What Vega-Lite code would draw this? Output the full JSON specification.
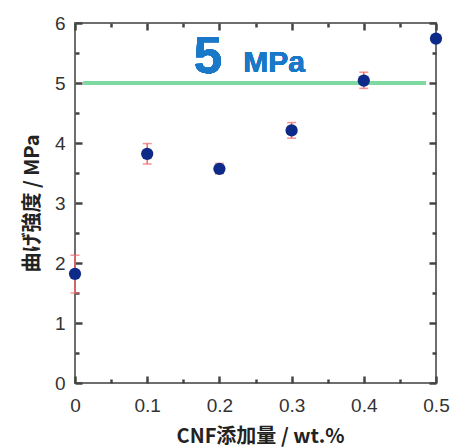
{
  "$schema": "https://vega.github.io/schema/vega-lite/v6.json",
  "width": 361,
  "height": 360,
  "padding": {"left": 75, "top": 23, "right": 27, "bottom": 65},
  "autosize": {"type": "none"},
  "background": "white",
  "config": {
    "view": {"stroke": "#6e6e6e", "strokeWidth": 2},
    "axis": {"labelFont": "Liberation Sans", "titleFont": "Noto Sans CJK JP", "grid": false, "domain": false}
  },
  "data": {
    "values": [
      {"cnf": 0.0, "strength": 1.82, "lo": 1.50, "hi": 2.13},
      {"cnf": 0.1, "strength": 3.82, "lo": 3.65, "hi": 3.99},
      {"cnf": 0.2, "strength": 3.57, "lo": 3.49, "hi": 3.66},
      {"cnf": 0.3, "strength": 4.21, "lo": 4.08, "hi": 4.34},
      {"cnf": 0.4, "strength": 5.04, "lo": 4.91, "hi": 5.18},
      {"cnf": 0.5, "strength": 5.74, "lo": 5.74, "hi": 5.74}
    ]
  },
  "resolve": {"axis": {"x": "independent", "y": "independent"}},
  "layer": [
    {
      "mark": {"type": "rule", "color": "#7ddaa0", "strokeWidth": 3.5},
      "encoding": {
        "x": {"datum": 0.012, "type": "quantitative", "scale": {"domain": [0, 0.5], "nice": false, "zero": false},
          "axis": {"orient": "bottom", "values": [0, 0.1, 0.2, 0.3, 0.4, 0.5], "format": "~g", "tickSize": -7, "tickColor": "#444444", "tickWidth": 2.5, "labelPadding": 20, "labelFontSize": 19, "labelColor": "#333333", "labelFlush": false,
            "title": "CNF添加量 / wt.%", "titleFontSize": 20, "titleFontWeight": "bold", "titleColor": "#222222", "titlePadding": 11, "titleX": 185}},
        "x2": {"datum": 0.486},
        "y": {"datum": 5, "type": "quantitative", "scale": {"domain": [0, 6], "nice": false},
          "axis": {"orient": "left", "values": [0, 1, 2, 3, 4, 5, 6], "tickSize": -7, "tickColor": "#444444", "tickWidth": 2.5, "labelPadding": 17, "labelFontSize": 19, "labelColor": "#333333", "labelFlush": false,
            "title": "曲げ強度 / MPa", "titleFontSize": 20, "titleFontWeight": "bold", "titleColor": "#222222", "titlePadding": 12}}
      }
    },
    {
      "mark": {"type": "rule", "color": "#f26666", "strokeWidth": 1.5},
      "encoding": {
        "x": {"field": "cnf", "type": "quantitative",
          "axis": {"orient": "bottom", "values": [0.05, 0.15, 0.25, 0.35, 0.45], "tickSize": -4, "tickColor": "#444444", "tickWidth": 2.5, "labels": false, "title": null}},
        "y": {"field": "lo", "type": "quantitative",
          "axis": {"orient": "left", "values": [0.5, 1.5, 2.5, 3.5, 4.5, 5.5], "tickSize": -4, "tickColor": "#444444", "tickWidth": 2.5, "labels": false, "title": null}},
        "y2": {"field": "hi"}
      }
    },
    {
      "mark": {"type": "tick", "color": "#f26666", "orient": "horizontal", "size": 9, "thickness": 1.5},
      "encoding": {
        "x": {"field": "cnf", "type": "quantitative",
          "axis": {"orient": "top", "values": [0, 0.1, 0.2, 0.3, 0.4, 0.5], "tickSize": -7, "tickColor": "#444444", "tickWidth": 2.5, "labels": false, "title": null}},
        "y": {"field": "lo", "type": "quantitative",
          "axis": {"orient": "right", "values": [0, 1, 2, 3, 4, 5, 6], "tickSize": -7, "tickColor": "#444444", "tickWidth": 2.5, "labels": false, "title": null}}
      }
    },
    {
      "mark": {"type": "tick", "color": "#f26666", "orient": "horizontal", "size": 9, "thickness": 1.5},
      "encoding": {
        "x": {"field": "cnf", "type": "quantitative",
          "axis": {"orient": "top", "values": [0.05, 0.15, 0.25, 0.35, 0.45], "tickSize": -4, "tickColor": "#444444", "tickWidth": 2.5, "labels": false, "title": null}},
        "y": {"field": "hi", "type": "quantitative",
          "axis": {"orient": "right", "values": [0.5, 1.5, 2.5, 3.5, 4.5, 5.5], "tickSize": -4, "tickColor": "#444444", "tickWidth": 2.5, "labels": false, "title": null}}
      }
    },
    {
      "mark": {"type": "point", "filled": true, "opacity": 1, "color": "#0e2a88", "size": 150},
      "encoding": {
        "x": {"field": "cnf", "type": "quantitative", "axis": null},
        "y": {"field": "strength", "type": "quantitative", "axis": null}
      }
    },
    {
      "mark": {"type": "text", "text": "5", "font": "Liberation Sans", "fontWeight": "bold", "fontSize": 52, "color": "#1a78c8", "align": "center", "baseline": "alphabetic"},
      "encoding": {
        "x": {"datum": 0.184, "type": "quantitative", "axis": null},
        "y": {"datum": 5.16, "type": "quantitative", "axis": null}
      }
    },
    {
      "mark": {"type": "text", "text": "MPa", "font": "Liberation Sans", "fontWeight": "bold", "fontSize": 30, "color": "#1a78c8", "align": "left", "baseline": "alphabetic"},
      "encoding": {
        "x": {"datum": 0.233, "type": "quantitative", "axis": null},
        "y": {"datum": 5.19, "type": "quantitative", "axis": null}
      }
    }
  ]
}
